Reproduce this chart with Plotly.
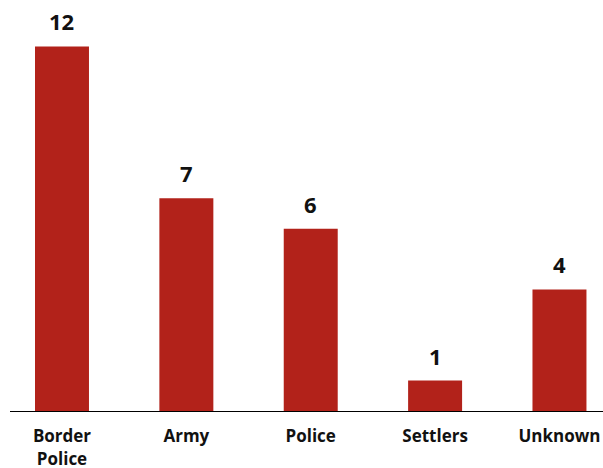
import plotly.graph_objects as go

categories = ["Border<br>Police", "Army", "Police", "Settlers", "Unknown"]
values = [12, 7, 6, 1, 4]

FONT = "Open Sans, Noto Sans, sans-serif"
xs = list(range(len(categories)))

fig = go.Figure(go.Bar(
    x=xs,
    y=values,
    width=0.434,
    marker=dict(color="#B2221A", line=dict(width=0)),
    hoverinfo="skip",
))

for x, v in zip(xs, values):
    fig.add_annotation(
        x=x, y=v, text=str(v), showarrow=False,
        yanchor="bottom", yshift=8,
        font=dict(family=FONT, size=22, color="#111111", weight="bold"),
    )

fig.update_layout(
    width=603, height=468,
    margin=dict(l=10, r=0, t=16, b=57),
    paper_bgcolor="white", plot_bgcolor="white",
    showlegend=False,
    font=dict(family=FONT, color="#111111"),
    xaxis=dict(
        range=[-0.418, 4.35],
        tickmode="array",
        tickvals=xs,
        ticktext=categories,
        tickfont=dict(size=17, color="#111111", weight="bold"),
        ticklabelstandoff=10,
        showline=True, linecolor="#000000", linewidth=1,
        showgrid=False, zeroline=False, ticks="",
        automargin=False, fixedrange=True,
    ),
    yaxis=dict(range=[0, 13], visible=False, showgrid=False, zeroline=False,
               automargin=False, fixedrange=True),
)

fig.write_html(
    "out.html",
    config={"displayModeBar": False},
    post_script="document.body.style.margin='0';document.body.style.overflow='hidden';",
)
